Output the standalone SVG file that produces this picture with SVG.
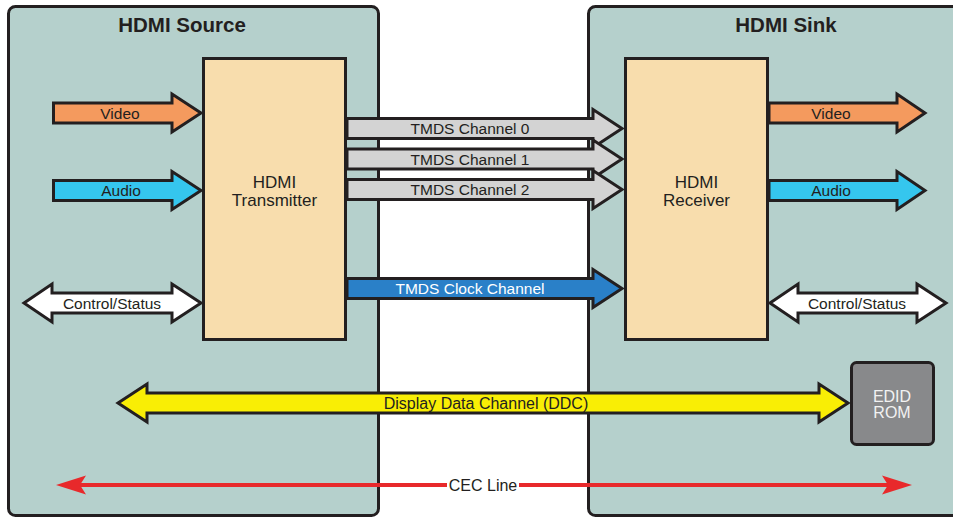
<svg xmlns="http://www.w3.org/2000/svg" width="953" height="518" viewBox="0 0 953 518">
<style>
.box{fill:#B5D0CC;stroke:#231F20;stroke-width:3}
.chip{fill:#F8DDAD;stroke:#231F20;stroke-width:3}
.ar{stroke:#231F20;stroke-width:3;stroke-linejoin:miter}
.t{font-family:"Liberation Sans",Arial,sans-serif;fill:#231F20;text-anchor:middle}
.title{font-size:20.5px;font-weight:bold}
.lbl{font-size:15.5px}
.big{font-size:17px}
.cec{stroke:#E8292B;stroke-width:4;fill:none}
</style>
<rect width="953" height="518" fill="#FFFFFF"/>
<g id="source">
<rect class="box" x="8.5" y="6.5" width="370" height="509" rx="7"/>
<text class="t title" x="182" y="32">HDMI Source</text>
</g>
<g id="sink">
<rect class="box" x="588.5" y="6.5" width="400" height="509" rx="7"/>
<text class="t title" x="786" y="32">HDMI Sink</text>
</g>
<g id="transmitter">
<rect class="chip" x="203.5" y="58.5" width="142" height="281"/>
<text class="t big" x="274.5" y="188">HDMI</text>
<text class="t big" x="274.5" y="206">Transmitter</text>
</g>
<g id="receiver">
<rect class="chip" x="625.5" y="58.5" width="142" height="281"/>
<text class="t big" x="696.5" y="188">HDMI</text>
<text class="t big" x="696.5" y="206">Receiver</text>
</g>
<g id="edid">
<rect x="851.5" y="362.5" width="82" height="82" rx="5" fill="#88898B" stroke="#231F20" stroke-width="3"/>
<text class="t lbl" x="892" y="402" style="fill:#F2F2F2;font-size:16px">EDID</text>
<text class="t lbl" x="892" y="418" style="fill:#F2F2F2;font-size:16px">ROM</text>
</g>
<g id="connectors">
<polygon class="ar" fill="#F49A5E" points="53.5,103 172,103 172,94 201,113 172,132 172,123 53.5,123"/>
<text class="t lbl" x="120" y="118.5">Video</text>
<polygon class="ar" fill="#35C6EE" points="53.5,180.5 172,180.5 172,171.5 201,190.5 172,209.5 172,200.5 53.5,200.5"/>
<text class="t lbl" x="121" y="196">Audio</text>
<polygon class="ar" fill="#FFFFFF" points="24,303 52,284 52,293 172,293 172,284 201,303 172,322 172,313 52,313 52,322"/>
<text class="t lbl" x="112" y="308.5">Control/Status</text>
<polygon class="ar" fill="#D3D3D3" points="347,118.5 593,118.5 593,109.5 622,128.5 593,147.5 593,138.5 347,138.5"/>
<text class="t lbl" x="470" y="134">TMDS Channel 0</text>
<polygon class="ar" fill="#D3D3D3" points="347,149 593,149 593,140 622,159 593,178 593,169 347,169"/>
<text class="t lbl" x="470" y="164.5">TMDS Channel 1</text>
<polygon class="ar" fill="#D3D3D3" points="347,179.5 593,179.5 593,170.5 622,189.5 593,208.5 593,199.5 347,199.5"/>
<text class="t lbl" x="470" y="195">TMDS Channel 2</text>
<polygon class="ar" fill="#2A80C8" points="347,278.5 593,278.5 593,269.5 622,288.5 593,307.5 593,298.5 347,298.5"/>
<text class="t lbl" x="470" y="294" style="fill:#FFFFFF">TMDS Clock Channel</text>
<polygon class="ar" fill="#F49A5E" points="769,103 897,103 897,94 925,113 897,132 897,123 769,123"/>
<text class="t lbl" x="831" y="118.5">Video</text>
<polygon class="ar" fill="#35C6EE" points="769,180.5 897,180.5 897,171.5 925,190.5 897,209.5 897,200.5 769,200.5"/>
<text class="t lbl" x="831" y="196">Audio</text>
<polygon class="ar" fill="#FFFFFF" points="770,303 798,284 798,293 917,293 917,284 946,303 917,322 917,313 798,313 798,322"/>
<text class="t lbl" x="857" y="308.5">Control/Status</text>
<polygon class="ar" fill="#F9EE05" points="118,403 147,384 147,393 819,393 819,384 848,403 819,422 819,413 147,413 147,422"/>
<text class="t lbl" x="486" y="408.5" style="font-size:16px">Display Data Channel (DDC)</text>
<line class="cec" x1="80" y1="485" x2="447" y2="485"/>
<line class="cec" x1="519" y1="485" x2="888" y2="485"/>
<polygon fill="#E8292B" points="56,485 86,475.5 80,485 86,494.5"/>
<polygon fill="#E8292B" points="912,485 882,475.5 888,485 882,494.5"/>
<text class="t lbl" x="483" y="490.5" style="font-size:16px">CEC Line</text>
</g>
</svg>
